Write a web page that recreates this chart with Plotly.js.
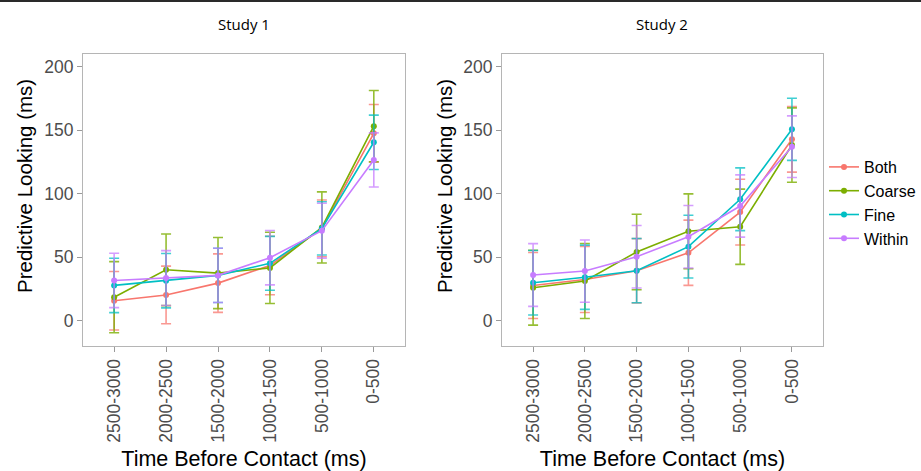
<!DOCTYPE html>
<html>
<head>
<meta charset="utf-8">
<script src="https://cdn.plot.ly/plotly-3.0.1.min.js"></script>
<style>html,body{margin:0;padding:0;background:#fff;}#chart{width:921px;height:471px;}</style>
</head>
<body>
<div id="chart"></div>
<script>
// Categories (x axis tick labels)
const timeBins = ["2500-3000", "2000-2500", "1500-2000", "1000-1500", "500-1000", "0-500"];
const groups = ["Both", "Coarse", "Fine", "Within"];
const groupColors = ["#F8766D", "#7CAE00", "#00BFC4", "#C77CFF"];
const errColors = ["rgba(248,118,109,0.75)", "rgba(124,174,0,0.8)", "rgba(0,191,196,0.75)", "rgba(199,124,255,0.75)"];

// Study 1 means and error (+/-)
const s1Both = [15.7, 20.3, 29.6, 43.5, 72.7, 147.5];
const s1BothErr = [23.0, 22.7, 23.0, 23.0, 22.3, 22.7];
const s1Coarse = [18.5, 40.1, 37.5, 41.6, 73.4, 153.2];
const s1CoarseErr = [28.0, 28.2, 28.0, 28.0, 28.0, 28.0];
const s1Fine = [27.8, 31.5, 35.7, 45.2, 72.7, 140.5];
const s1FineErr = [21.4, 21.4, 21.4, 21.2, 21.0, 21.4];
const s1Within = [31.7, 33.6, 35.7, 49.6, 70.9, 126.6];
const s1WithinErr = [21.4, 21.6, 21.4, 21.4, 21.6, 21.3];

// Study 2 means and error (+/-)
const s2Both = [27.7, 32.5, 39.3, 53.5, 85.5, 142.8];
const s2BothErr = [26.0, 26.0, 25.3, 25.7, 25.9, 25.8];
const s2Coarse = [26.0, 31.3, 54.1, 70.4, 74.0, 138.3];
const s2CoarseErr = [29.5, 29.5, 29.7, 29.5, 29.6, 29.3];
const s2Fine = [29.9, 34.2, 39.4, 58.3, 95.6, 150.7];
const s2FineErr = [25.4, 25.3, 25.3, 24.7, 24.7, 24.5];
const s2Within = [36.0, 39.1, 50.4, 66.1, 90.3, 137.0];
const s2WithinErr = [24.7, 24.5, 24.6, 24.6, 24.5, 24.3];

const panelTitles = ["Study 1", "Study 2"];
const yTitle = "Predictive Looking (ms)";
const xTitle = "Time Before Contact (ms)";
const yTicks = [0, 50, 100, 150, 200];

const study1 = [[s1Both, s1BothErr], [s1Coarse, s1CoarseErr], [s1Fine, s1FineErr], [s1Within, s1WithinErr]];
const study2 = [[s2Both, s2BothErr], [s2Coarse, s2CoarseErr], [s2Fine, s2FineErr], [s2Within, s2WithinErr]];

const traces = [];
[study1, study2].forEach((study, si) => {
  study.forEach((pair, gi) => {
    traces.push({
      type: "scatter",
      mode: "lines+markers",
      x: timeBins,
      y: pair[0],
      name: groups[gi],
      legendgroup: groups[gi],
      showlegend: si === 0,
      xaxis: si === 0 ? "x" : "x2",
      yaxis: si === 0 ? "y" : "y2",
      line: {color: groupColors[gi], width: 1.6},
      marker: {color: groupColors[gi], size: 6},
      error_y: {type: "data", array: pair[1], visible: true, color: errColors[gi], thickness: 1.6, width: 5},
      hoverinfo: "x+y+name"
    });
  });
});

const axisFont = {family: "Liberation Sans, Arial, sans-serif", size: 17.5, color: "#4d4d4d"};
const lineCol = "#b5b5b5";

function xAxis(domain, anchor) {
  return {
    domain: domain, anchor: anchor, type: "category",
    categoryorder: "array", categoryarray: timeBins,
    range: [-0.6, 5.6], tickangle: -90,
    showline: true, mirror: true, linecolor: lineCol, linewidth: 1,
    ticks: "outside", ticklen: 5, tickcolor: "#9a9a9a", tickwidth: 1,
    showgrid: false, zeroline: false, tickfont: axisFont,
    title: {text: xTitle, font: {family: "Liberation Sans, Arial, sans-serif", size: 21.5, color: "#000"}, standoff: 12},
    fixedrange: true
  };
}
function yAxis(anchor) {
  return {
    domain: [0.2654, 0.8854], anchor: anchor,
    range: [-19.9, 210], tickvals: yTicks,
    showline: true, mirror: true, linecolor: lineCol, linewidth: 1,
    ticks: "outside", ticklen: 5, tickcolor: "#9a9a9a", tickwidth: 1,
    showgrid: false, zeroline: false, tickfont: axisFont,
    fixedrange: true
  };
}

const layout = {
  width: 921, height: 471,
  margin: {l: 0, r: 0, t: 0, b: 0},
  paper_bgcolor: "#ffffff", plot_bgcolor: "#ffffff",
  showlegend: true,
  xaxis: xAxis([0.0901, 0.4397], "y"),
  yaxis: yAxis("x"),
  xaxis2: xAxis([0.5451, 0.8936], "y2"),
  yaxis2: yAxis("x2"),
  legend: {
    x: 0.8947, xanchor: "left", y: 0.569, yanchor: "middle",
    font: {family: "Liberation Sans, Arial, sans-serif", size: 16, color: "#000"},
    bgcolor: "rgba(0,0,0,0)", borderwidth: 0, itemwidth: 30, tracegroupgap: 0
  },
  annotations: [
    {text: panelTitles[0], xref: "paper", yref: "paper", x: 243.5 / 921, y: 1 - 24 / 471, xanchor: "center", yanchor: "middle", showarrow: false,
     font: {family: "Open Sans, sans-serif", size: 15, color: "#000"}},
    {text: panelTitles[1], xref: "paper", yref: "paper", x: 662 / 921, y: 1 - 24 / 471, xanchor: "center", yanchor: "middle", showarrow: false,
     font: {family: "Open Sans, sans-serif", size: 15, color: "#000"}},
    {text: yTitle, xref: "paper", yref: "paper", x: 24 / 921, y: 1 - 186 / 471, xanchor: "center", yanchor: "middle", textangle: -90, showarrow: false,
     font: {family: "Liberation Sans, Arial, sans-serif", size: 20.5, color: "#000"}},
    {text: yTitle, xref: "paper", yref: "paper", x: 444 / 921, y: 1 - 186 / 471, xanchor: "center", yanchor: "middle", textangle: -90, showarrow: false,
     font: {family: "Liberation Sans, Arial, sans-serif", size: 20.5, color: "#000"}}
  ],
  shapes: [
    {type: "rect", xref: "paper", yref: "paper", x0: 0, x1: 1, y0: 1 - 2 / 471, y1: 1, fillcolor: "#2a2a2a", line: {width: 0}, layer: "above"}
  ]
};

Plotly.newPlot("chart", traces, layout, {displayModeBar: false, staticPlot: false});
</script>
</body>
</html>
